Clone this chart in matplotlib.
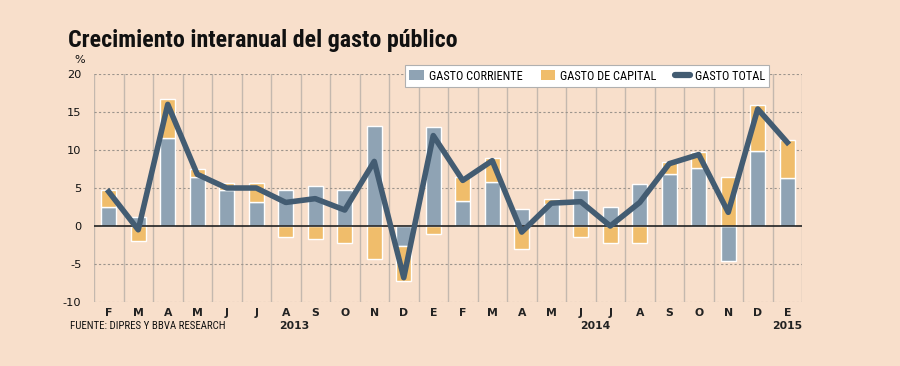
import numpy as np
import matplotlib.pyplot as plt
import matplotlib.transforms as mtransforms
from matplotlib.patches import Patch
from matplotlib.lines import Line2D

meses = ['F', 'M', 'A', 'M', 'J', 'J', 'A', 'S', 'O', 'N', 'D', 'E',
         'F', 'M', 'A', 'M', 'J', 'J', 'A', 'S', 'O', 'N', 'D', 'E']
corriente = [2.5, 1.2, 11.6, 6.5, 4.8, 3.2, 4.7, 5.2, 4.7, 13.2, -2.6, 13.0,
             3.3, 5.8, 2.2, 2.9, 4.7, 2.5, 5.5, 6.9, 7.6, -4.6, 9.9, 6.3]
capital = [2.2, -2.0, 5.1, 1.0, 0.8, 2.4, -1.5, -1.7, -2.3, -4.4, -4.6, -1.1,
           3.1, 3.2, -3.0, 0.6, -1.4, -2.3, -2.2, 1.5, 2.2, 6.4, 6.0, 5.0]
total = [4.5, -0.5, 16.0, 6.8, 5.0, 5.0, 3.1, 3.6, 2.1, 8.5, -6.8, 11.9,
         6.0, 8.6, -0.8, 3.0, 3.2, 0.0, 3.1, 8.2, 9.4, 1.8, 15.4, 11.0]
anios = ['2013', '2014', '2015']
anio_pos = [6.3, 16.5, 23]

BG = '#f8dfcb'
C_CORR = '#8fa3b4'
C_CAP = '#f0bd6b'
C_TOT = '#435c72'

# narrow font for title/legend/source, plain sans for the axis labels
plt.rcParams['font.family'] = ['Roboto Condensed', 'Liberation Sans Narrow',
                               'Liberation Sans', 'DejaVu Sans']
plt.rcParams['axes.unicode_minus'] = False
AXFONT = 'DejaVu Sans'

fig = plt.figure(figsize=(9, 3.66), dpi=100, facecolor=BG)
ax = fig.add_axes([94 / 900, 1 - 302 / 366, 708 / 900, 228 / 366])
ax.set_facecolor(BG)

x = np.arange(len(meses))
corr = np.array(corriente)
cap = np.array(capital)
bottom_cap = np.where(np.sign(corr) == np.sign(cap), corr, 0)

ax.bar(x, corr, width=0.52, color=C_CORR, edgecolor='white', linewidth=1, zorder=3)
ax.bar(x, cap, bottom=bottom_cap, width=0.52, color=C_CAP, edgecolor='white', linewidth=1, zorder=3)
ax.plot(x, total, color=C_TOT, lw=4, zorder=5)

ax.set_xlim(-0.5, len(meses) - 0.5)
ax.set_ylim(-10, 20)
ax.set_yticks([-10, -5, 0, 5, 10, 15, 20])
ax.tick_params(axis='y', length=0, pad=9, labelsize=8.2, labelcolor='#111111')
for lab in ax.get_yticklabels():
    lab.set_family(AXFONT)
ax.set_xticks([])
for s in ax.spines.values():
    s.set_visible(False)

for b in np.arange(-0.5, len(meses), 1):
    ax.axvline(b, color='#c4b8ae', lw=1, zorder=1)
for yv in [-10, -5, 5, 10, 15, 20]:
    ax.axhline(yv, color='#9c948c', lw=0.8, ls=(0, (2, 2)), zorder=1)
ax.axhline(0, color='#222222', lw=1.2, zorder=4)

tr = mtransforms.blended_transform_factory(ax.transData, fig.transFigure)
for i, m in enumerate(meses):
    ax.text(i, 1 - 313 / 366, m, transform=tr, ha='center', va='center',
            fontsize=7.8, fontweight='bold', color='#222222', family=AXFONT)
for a, p in zip(anios, anio_pos):
    ax.text(p, 1 - 326 / 366, a, transform=tr, ha='center', va='center',
            fontsize=7.8, fontweight='bold', color='#222222', family=AXFONT)

fig.text(68 / 900, 1 - 40 / 366, 'Crecimiento interanual del gasto público',
         fontsize=17.3, fontweight='bold', va='center', ha='left', color='#111111')
fig.text(80 / 900, 1 - 60 / 366, '%', fontsize=8, ha='center', va='center',
         color='#111111', family=AXFONT)
fig.text(70 / 900, 1 - 326 / 366, 'FUENTE: DIPRES Y BBVA RESEARCH', fontsize=7.8,
         ha='left', va='center', color='#111111')

handles = [Patch(facecolor=C_CORR, edgecolor='none', label='GASTO CORRIENTE'),
           Patch(facecolor=C_CAP, edgecolor='none', label='GASTO DE CAPITAL'),
           Line2D([0], [0], color=C_TOT, lw=4.5, solid_capstyle='round', label='GASTO TOTAL')]
leg = fig.legend(handles=handles, ncol=3, loc='center', bbox_to_anchor=(587 / 900, 1 - 76 / 366),
                 frameon=True, fancybox=False, fontsize=8.8, handlelength=1.2, handleheight=0.9,
                 handletextpad=0.4, columnspacing=1.5, borderpad=0.35)
leg.get_frame().set_facecolor('white')
leg.get_frame().set_edgecolor('#b0b0b0')
leg.get_frame().set_linewidth(0.8)
leg.get_frame().set_alpha(1)
leg.set_zorder(10)

fig.savefig('out.png', dpi=100, facecolor=BG)
